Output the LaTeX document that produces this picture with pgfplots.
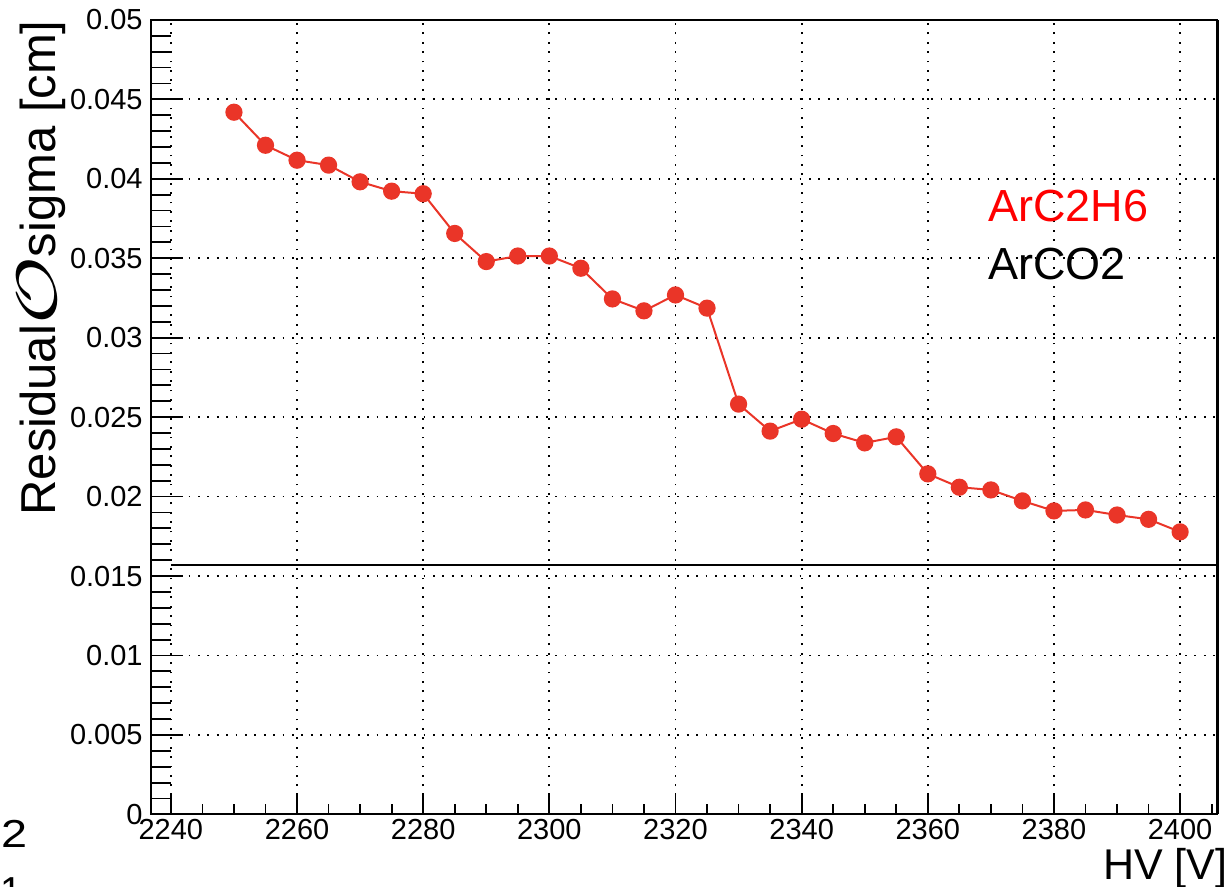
\documentclass[border=0pt]{standalone}
\usepackage{fontspec}
\setmainfont{Liberation Sans}
\usepackage{graphicx}
\usepackage{pgfplots}
\pgfplotsset{compat=1.18}
\definecolor{datared}{RGB}{234,53,40}
\definecolor{legred}{RGB}{255,0,0}

\pgfplotstableread{
hv    sigma
2250  0.04419
2255  0.04211
2260  0.04117
2265  0.04086
2270  0.03981
2275  0.03922
2280  0.03906
2285  0.03656
2290  0.03479
2295  0.03514
2300  0.03514
2305  0.03437
2310  0.03244
2315  0.03169
2320  0.03269
2325  0.03186
2330  0.02582
2335  0.02412
2340  0.02487
2345  0.02397
2350  0.02338
2355  0.02376
2360  0.02143
2365  0.02059
2370  0.02042
2375  0.01973
2380  0.01910
2385  0.01916
2390  0.01884
2395  0.01857
2400  0.01778
}\arctable

\begin{document}
\begin{tikzpicture}[x=1pt,y=1pt]
\pgfplotsset{
  myframe/.style={
    at={(75.5pt,36.3pt)}, anchor=south west,
    scale only axis, width=532.85pt, height=397.25pt,
    xmin=2236.85, xmax=2405.8, ymin=0, ymax=0.05,
    tick align=inside,
    every tick/.style={black, line width=0.9pt},
    major grid style={black, line width=0.9pt, dash pattern=on 0.9pt off 3.8pt},
  }
}
% axis A: y ticks, y labels, y grid, frame
\begin{axis}[myframe,
  axis line style={black, line width=0.9pt},
  xtick=\empty,
  ytick={0,0.005,0.01,0.015,0.02,0.025,0.03,0.035,0.04,0.045,0.05},
  yticklabels={0,0.005,0.01,0.015,0.02,0.025,0.03,0.035,0.04,0.045,0.05},
  minor y tick num=4,
  ytick pos=left,
  major tick length=16pt, minor tick length=10pt,
  ymajorgrids,
  yticklabel style={font=\fontsize{14.5}{17}\selectfont, inner sep=0pt, anchor=east, xshift=-4pt},
]
\end{axis}
% axis B: x ticks, x labels, x grid, data
\begin{axis}[myframe,
  axis line style={draw=none},
  clip=false,
  ytick=\empty,
  xtick={2240,2260,2280,2300,2320,2340,2360,2380,2400},
  xticklabels={2240,2260,2280,2300,2320,2340,2360,2380,2400},
  minor xtick={2245,2250,2255,2265,2270,2275,2285,2290,2295,2305,2310,2315,2325,2330,2335,2345,2350,2355,2365,2370,2375,2385,2390,2395,2405},
  xtick pos=left,
  major tick length=10.5pt, minor tick length=5pt,
  xmajorgrids,
  xticklabel style={font=\fontsize{14.5}{17}\selectfont, inner sep=0pt, anchor=north, yshift=-2pt},
]
\addplot[black, line width=1pt, no marks] coordinates {(2240,0.01569) (2405.8,0.01569)};
\addplot[datared, line width=1pt, mark=*, mark size=3.8pt, mark options={solid, fill=datared, draw=datared}] table[x=hv, y=sigma] {\arctable};
\draw[black, line width=1.6pt] ([xshift=0.4pt]rel axis cs:1,0) -- ([xshift=0.4pt]rel axis cs:1,1);
\end{axis}
% texts
\node[rotate=90, anchor=base east, inner sep=0pt, font=\fontsize{24.5}{28}\selectfont] at (27.5pt,433.5pt) {Residual\raisebox{-0.5pt}{\scalebox{1.65}[1.15]{$\mathcal{O}$}}sigma [cm]};
\node[anchor=base east, inner sep=0pt, font=\fontsize{21.5}{25}\selectfont] at (614pt,3.5pt) {HV [V]};
\node[anchor=base west, inner sep=0pt, font=\fontsize{22.5}{26}\selectfont, text=legred] at (494pt,332.6pt) {ArC2H6};
\node[anchor=base west, inner sep=0pt, font=\fontsize{22.5}{26}\selectfont, text=black] at (494pt,303.5pt) {ArCO2};
\node[anchor=base west, inner sep=0pt, font=\fontsize{19.5}{22}\selectfont, xscale=1.2] at (0.5pt,19.5pt) {2};
\node[anchor=base west, inner sep=0pt, font=\fontsize{19.5}{22}\selectfont] at (0pt,-9pt) {1};
\pgfresetboundingbox
\useasboundingbox (0,0) rectangle (616pt,443.5pt);
\end{tikzpicture}
\end{document}
